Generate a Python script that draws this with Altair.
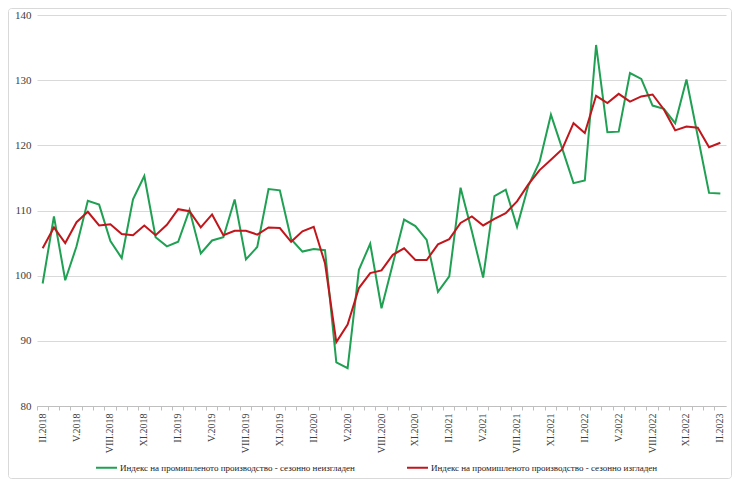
import json
import altair as alt
import pandas as pd

# ---- data -------------------------------------------------------------
roman = ["I", "II", "III", "IV", "V", "VI", "VII", "VIII", "IX", "X", "XI", "XII"]
years = [2018, 2019, 2020, 2021, 2022, 2023]
periods = [f"{roman[m]}.{y}" for y in years for m in range(12)
           if (y, m) >= (2018, 1) and (y, m) <= (2023, 1)]

tick_labels = ["II.2018", "V.2018", "VIII.2018", "XI.2018",
               "II.2019", "V.2019", "VIII.2019", "XI.2019",
               "II.2020", "V.2020", "VIII.2020", "XI.2020",
               "II.2021", "V.2021", "VIII.2021", "XI.2021",
               "II.2022", "V.2022", "VIII.2022", "XI.2022",
               "II.2023"]

not_adjusted = [98.8, 109.1, 99.3, 104.5, 111.5, 110.9, 105.3, 102.7, 111.7, 115.3, 105.9, 104.5,
                105.2, 110.1, 103.4, 105.4, 105.9, 111.7, 102.5, 104.4, 113.3, 113.1, 105.6, 103.7,
                104.1, 103.9, 86.7, 85.8, 100.9, 104.9, 95.0, 101.8, 108.6, 107.6, 105.5, 97.5,
                99.9, 113.5, 106.8, 99.7, 112.2, 113.2, 107.5, 113.8, 117.5, 124.7, 119.5, 114.2,
                114.6, 135.4, 122.0, 122.1, 131.1, 130.2, 126.1, 125.6, 123.4, 130.1, 121.4, 112.7,
                112.6]

adjusted = [104.2, 107.4, 105.0, 108.2, 109.8, 107.7, 107.9, 106.4, 106.2, 107.7, 106.2, 107.8,
            110.2, 109.9, 107.4, 109.4, 106.2, 106.9, 106.9, 106.3, 107.4, 107.3, 105.2, 106.8,
            107.5, 101.9, 89.8, 92.5, 98.1, 100.4, 100.8, 103.2, 104.2, 102.4, 102.4, 104.8,
            105.6, 108.1, 109.1, 107.7, 108.7, 109.6, 111.4, 114.0, 116.2, 117.8, 119.4, 123.4,
            121.9, 127.6, 126.5, 127.9, 126.7, 127.5, 127.8, 125.5, 122.3, 122.9, 122.7, 119.7,
            120.4]

SER_G = "Индекс на промишленото производство - сезонно  неизгладен"
SER_R = "Индекс на промишленото производство - сезонно изгладен"

df = pd.DataFrame({
    "period": periods * 2,
    "value": not_adjusted + adjusted,
    "series": [SER_G] * len(periods) + [SER_R] * len(periods),
})

# ---- layout -----------------------------------------------------------
W, H = 689, 391
PAD = {"left": 29, "top": 7, "right": 6, "bottom": 73}
SERIF = "Liberation Serif"

label_expr = f"indexof({json.dumps(tick_labels, ensure_ascii=False)}, datum.value) >= 0 ? datum.value : ''"

lines = alt.Chart(df).mark_line(strokeWidth=2).encode(
    x=alt.X("period:O", sort=periods, bandPosition=0.5,
            scale=alt.Scale(type="band", paddingInner=0, paddingOuter=0),
            axis=alt.Axis(title=None, labelAngle=270, labelExpr=label_expr,
                          labelOverlap=False, labelFont=SERIF, labelFontSize=10,
                          labelColor="#404040", labelPadding=3, bandPosition=0,
                          domainColor="#bfbfbf", tickColor="#bfbfbf", tickSize=4,
                          grid=False)),
    y=alt.Y("value:Q", scale=alt.Scale(domain=[80, 140], nice=False, zero=False),
            axis=alt.Axis(title=None, values=[80, 90, 100, 110, 120, 130, 140],
                          domain=False, ticks=False, gridColor="#d9d9d9",
                          labelFont=SERIF, labelFontSize=11, labelColor="#404040",
                          labelPadding=6)),
    color=alt.Color("series:N",
                    scale=alt.Scale(domain=[SER_G, SER_R], range=["#1fa052", "#c0161c"]),
                    legend=alt.Legend(title=None, orient="none", legendX=58, legendY=441,
                                      direction="horizontal", symbolType="stroke",
                                      symbolSize=440, symbolStrokeWidth=2,
                                      labelFont=SERIF, labelFontSize=9, labelColor="#222222",
                                      labelLimit=0, columnPadding=45, symbolOffset=0,
                                      labelOffset=2)),
)

border = alt.Chart(pd.DataFrame({"b": [0]})).mark_rect(
    fillOpacity=0, stroke="#d9d9d9", strokeWidth=1, cornerRadius=3
).encode(
    x=alt.value(-28.5), x2=alt.value(W + 5.5), y=alt.value(-6.5), y2=alt.value(H + 72.5)
)

chart = alt.layer(border, lines).properties(
    width=W, height=H, padding=PAD,
    autosize=alt.AutoSizeParams(type="none"),
    background="white",
).configure_view(stroke=None)

chart.save("out.html", embed_options={"renderer": "svg", "actions": False})
